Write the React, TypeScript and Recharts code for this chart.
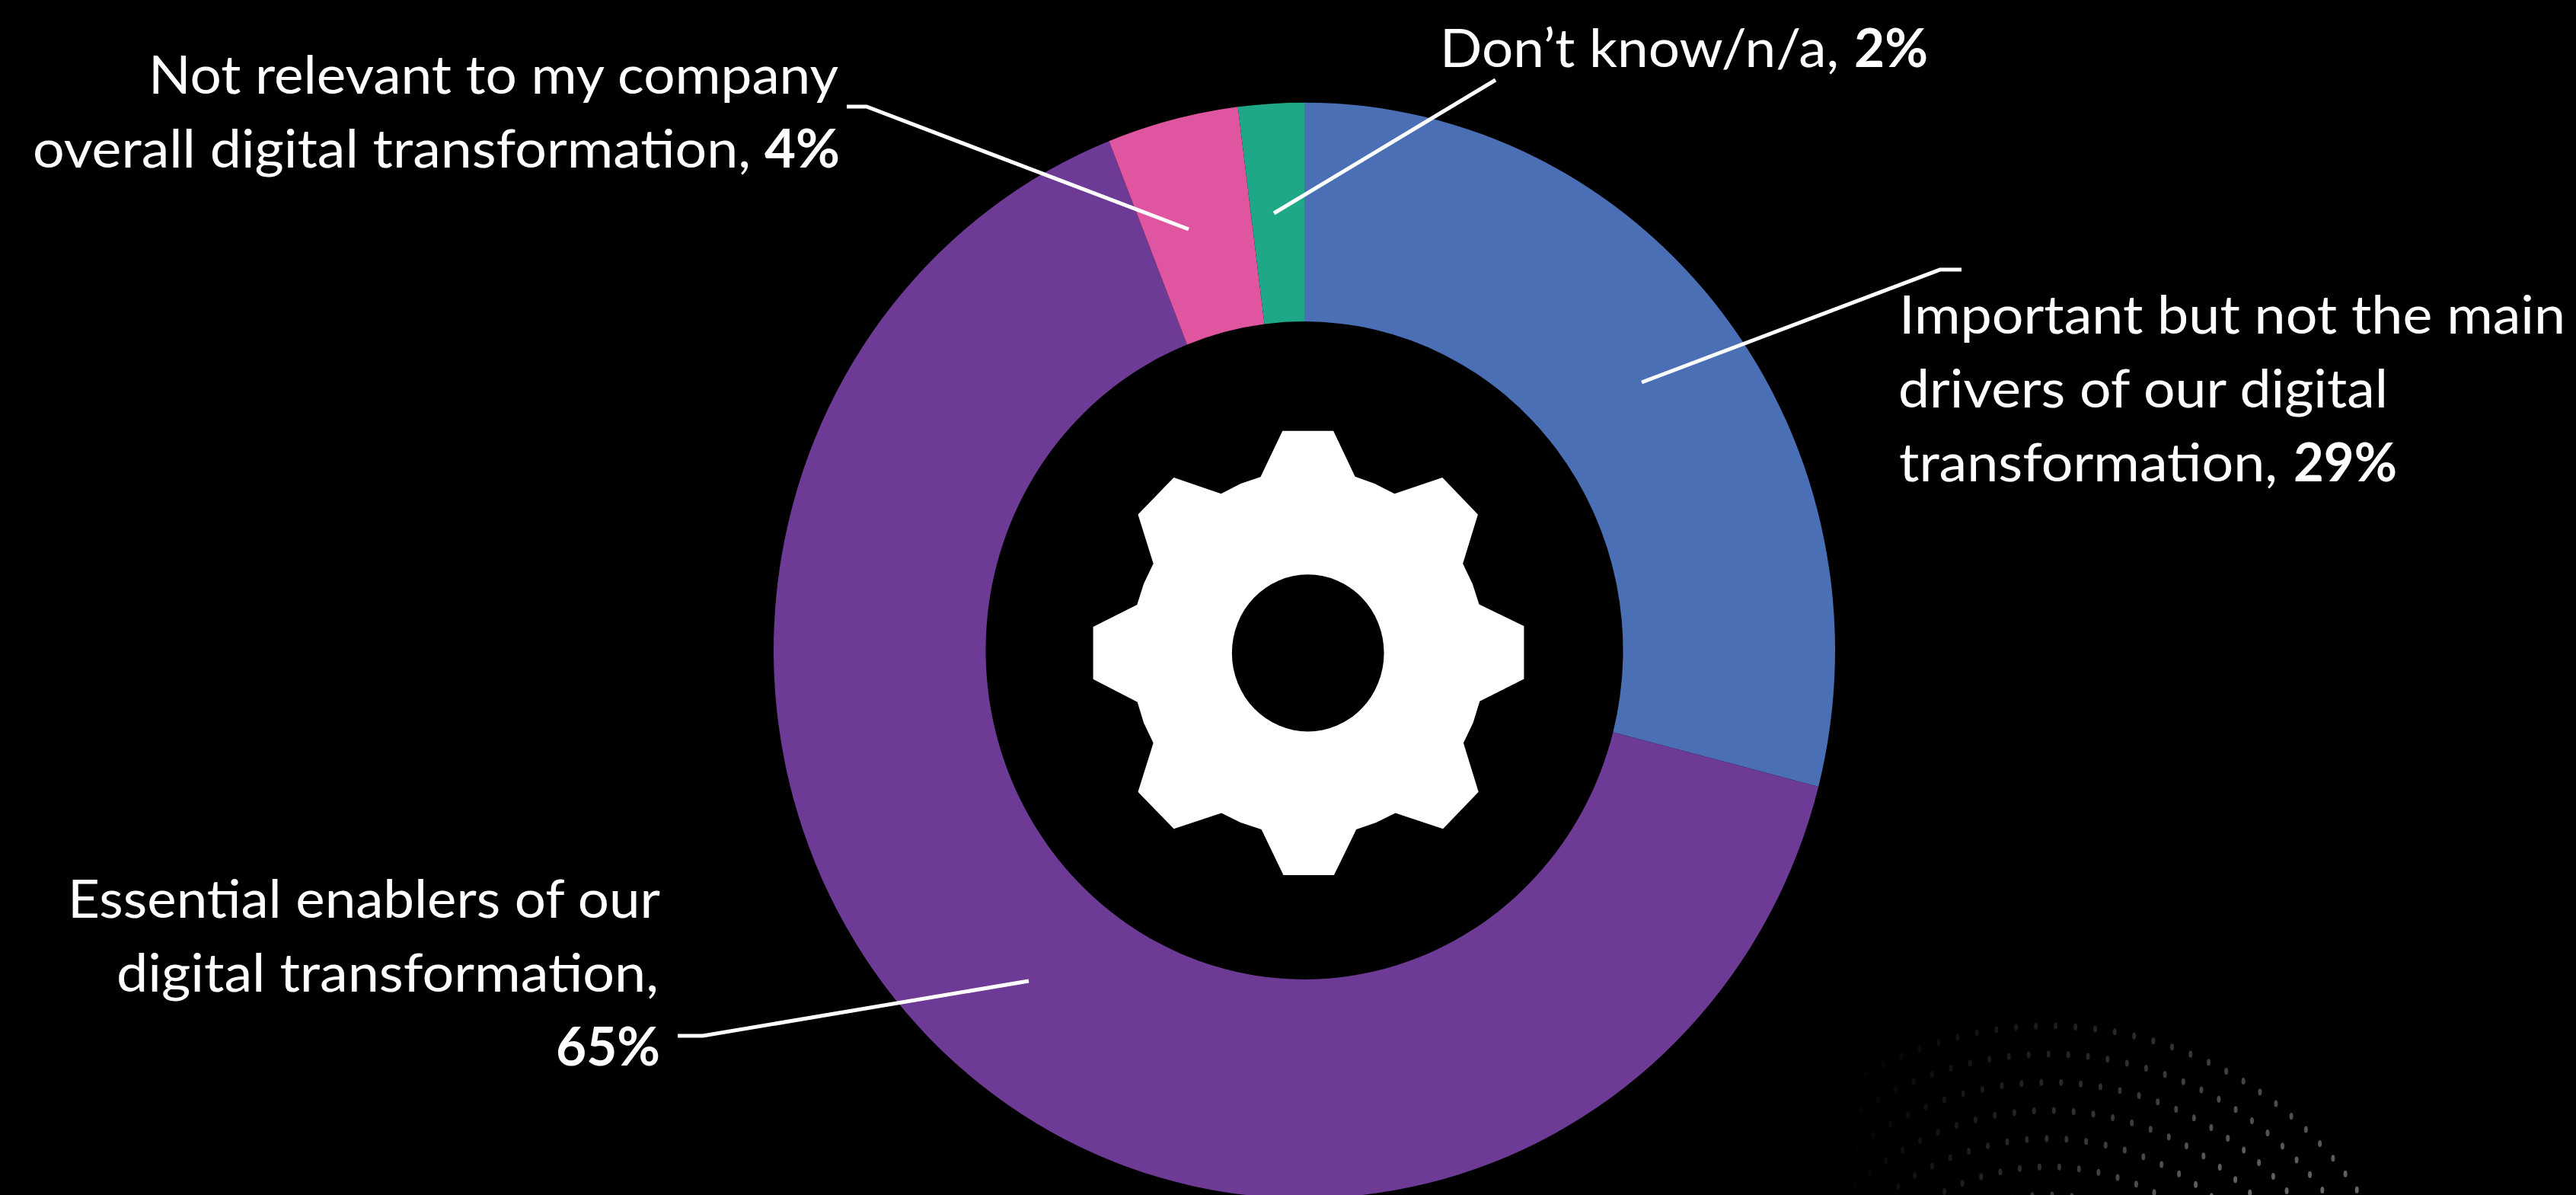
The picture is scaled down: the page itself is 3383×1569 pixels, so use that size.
import { PieChart, Pie, Sector } from "recharts";

const categories = [
  "Important but not the main drivers of our digital transformation",
  "Essential enablers of our digital transformation",
  "Not relevant to my company overall digital transformation",
  "Don’t know/n/a",
];
const values = [29, 65, 4, 2];
const colors = ["#4A6FB5", "#6D3B95", "#E055A0", "#1EA887"];

// wrapped label text per slice
const labelLines = [
  ["Important but not the main", "drivers of our digital", "transformation,"],
  ["Essential enablers of our", "digital transformation,"],
  ["Not relevant to my company", "overall digital transformation,"],
  ["Don’t know/n/a,"],
];

const data = categories.map((name, i) => ({ name, value: values[i] }));

const WIDTH = 3383;
const HEIGHT = 1569;
const CX = 1713;
const CY = 854;
const STRETCH_Y = 1.032; // the donut is slightly taller than wide

// [x, baseline, width] of every label line
const labelBoxes = [
  [[2494, 438, 875], [2493, 535, 643], [2494, 632, 497]],
  [[89, 1205, 778], [153, 1302, 712]],
  [[195, 123, 906], [43, 220, 943]],
  [[1891, 88, 524]],
];

// same, for the bold percentage
const valueBoxes = [
  [3012, 632, 136],
  [730, 1399, 137],
  [1004, 220, 99],
  [2435, 88, 97],
];

const leaders = [
  "2576,354 2548,354 2156,502",
  "890,1360 923,1360 1351,1288",
  "1112,140 1138,140 1561,301",
  "1964,105 1673,280",
];

const gearPoints = [
  [719, 63], [888, 63], [960, 210], [1025, 233], [1091, 265], [1250, 213], [1368, 332], [1318, 490],
  [1350, 555], [1372, 621], [1521, 691], [1521, 861], [1374, 933], [1352, 1002], [1320, 1067], [1370, 1224],
  [1252, 1343], [1094, 1292], [1030, 1323], [964, 1345], [890, 1492], [722, 1492], [649, 1345], [580, 1323],
  [516, 1292], [358, 1343], [239, 1224], [290, 1067], [258, 1002], [237, 935], [90, 862], [90, 693],
  [236, 622], [258, 555], [290, 490], [239, 332], [358, 213], [515, 265], [580, 233], [646, 211],
];

const renderSector = (props: any) => (
  <g transform={`translate(0 ${CY}) scale(1 ${STRETCH_Y}) translate(0 ${-CY})`}>
    <Sector {...props} stroke="none" />
  </g>
);

const renderLeader = ({ index }: any) => (
  <polyline points={leaders[index]} fill="none" stroke="#fff" strokeWidth={5} />
);

const renderLabel = ({ index, value }: any) => {
  const [vx, vy, vw] = valueBoxes[index];
  return (
    <g fontFamily="Lato, sans-serif" fontSize={70} fill="#fff">
      {labelLines[index].map((line, i) => {
        const [x, y, w] = labelBoxes[index][i];
        return (
          <text key={i} x={x} y={y} textLength={w} lengthAdjust="spacingAndGlyphs">
            {line}
          </text>
        );
      })}
      <text x={vx} y={vy} textLength={vw} lengthAdjust="spacingAndGlyphs" fontWeight={700}>
        {value}%
      </text>
    </g>
  );
};

// gear icon in the donut hole
const Gear = () => (
  <g transform="translate(1400 540) scale(0.3954 0.4082)">
    <polygon points={gearPoints.map((p) => p.join(",")).join(" ")} fill="#fff" />
    <circle cx={803.5} cy={777.5} r={252.5} fill="#000" />
  </g>
);

// faint halftone arcs in the bottom right corner, fading out to the left
const Halftone = () => {
  const dots = [];
  for (let ring = 0; ring < 7; ring++) {
    const r = 489 - ring * 37;
    const step = 26 / r;
    for (let a = -1.15; a < 1.15; a += step) {
      const x = 2690 + r * Math.sin(a);
      const y = 1836 - r * Math.cos(a);
      if (y > HEIGHT + 6 || x < 2420) continue;
      const fade = Math.min(1, (x - 2420) / 500);
      const o = fade * (0.2 + Math.max(0, (y - 1340) / 230) * 0.2);
      dots.push(<ellipse key={`${ring}-${a}`} cx={x} cy={y} rx={2.5} ry={4.5} fill="#fff" opacity={o} />);
    }
  }
  return <g>{dots}</g>;
};

export default function App() {
  return (
    <div style={{ position: "fixed", left: 0, top: 0, width: WIDTH, height: HEIGHT, background: "#000", overflow: "hidden" }}>
      <PieChart width={WIDTH} height={HEIGHT} margin={{ top: 0, right: 0, bottom: 0, left: 0 }}>
        <Halftone />
        <Pie
          data={data}
          dataKey="value"
          nameKey="name"
          cx={CX}
          cy={CY}
          innerRadius={418.5}
          outerRadius={697}
          startAngle={90}
          endAngle={-270}
          stroke="none"
          isAnimationActive={false}
          shape={(props: any) => renderSector({ ...props, fill: colors[props.index] })}
          label={renderLabel}
          labelLine={renderLeader}
        />
        <Gear />
      </PieChart>
    </div>
  );
}
